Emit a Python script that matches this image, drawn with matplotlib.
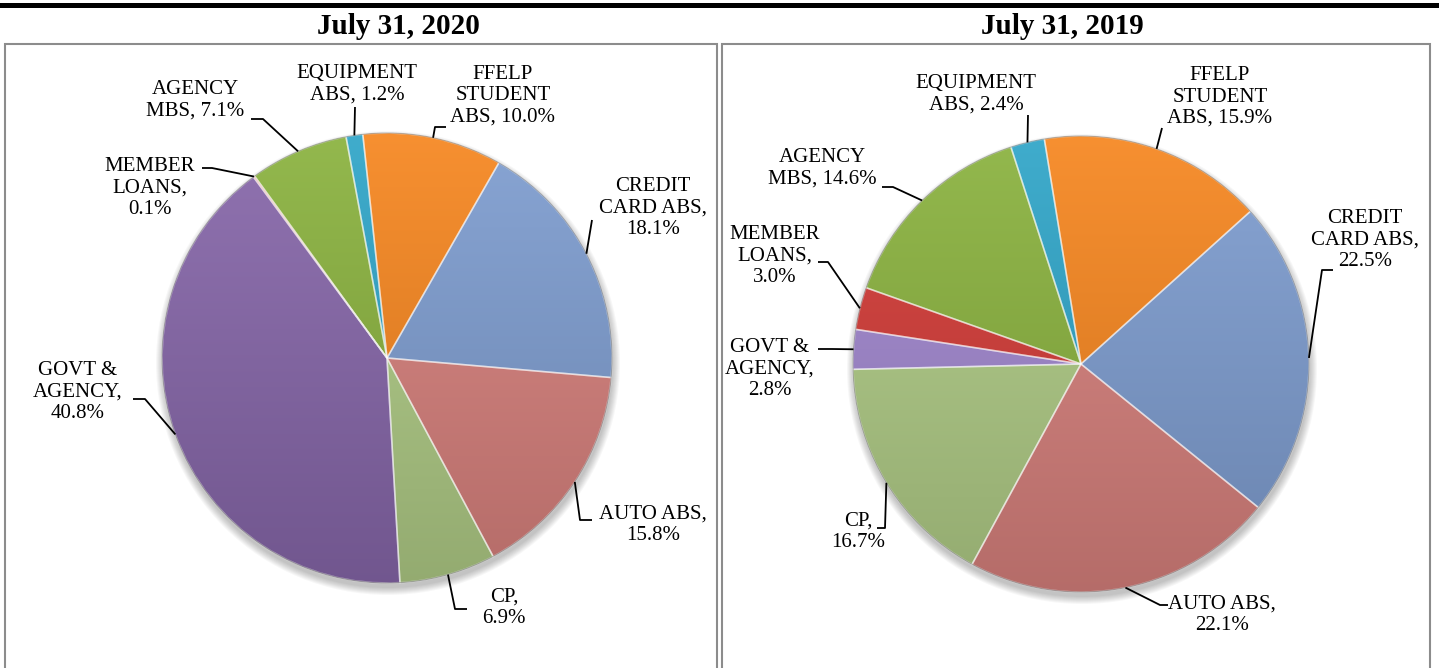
import numpy as np
import matplotlib
matplotlib.use("Agg")
import matplotlib.pyplot as plt
from matplotlib.patches import Rectangle, Circle
from matplotlib.colors import to_rgb

#? canvas size in pixels (dpi 100)
W, H = 1439, 668

#? slice names, clockwise from the top; "{}" gets the share
label_fmt = [
    "EQUIPMENT\nABS, {:.1f}%",
    "FFELP\nSTUDENT\nABS, {:.1f}%",
    "CREDIT\nCARD ABS,\n{:.1f}%",
    "AUTO ABS,\n{:.1f}%",
    "CP,\n{:.1f}%",
    "GOVT &\nAGENCY,\n{:.1f}%",
    "MEMBER\nLOANS,\n{:.1f}%",
    "AGENCY\nMBS, {:.1f}%",
]

titles = ["July 31, 2020", "July 31, 2019"]
share_2020 = [1.2, 10.0, 18.1, 15.8, 6.9, 40.8, 0.1, 7.1]
share_2019 = [2.4, 15.9, 22.5, 22.1, 16.7, 2.8, 3.0, 14.6]

colors_2020 = ["#2FA5C8", "#F6861F", "#7E9DD0", "#D8817D",
               "#B0CC86", "#8767AA", "#D33B37", "#8AB23E"]
colors_2019 = ["#2FA5C8", "#F6861F", "#7E9DD0", "#D8817D",
               "#B0CC86", "#A187CF", "#D33B37", "#8AB23E"]

#? layout (pixel coords, y measured from the top)
layout_2020 = dict(
    center=(387, 358), radius=225, start=100.5, title=(398, 27),
    text=[(357, 84), (503, 96), (653, 208), (653, 525),
          (504, 608), (78, 392), (150, 188), (195, 100)],
    elbow=[[(355, 107)], [(446, 127), (435, 127)], [(592, 220)],
           [(592, 520), (580, 520)], [(467, 609), (455, 609)],
           [(133, 399), (145, 399)], [(202, 168), (212, 168)],
           [(251, 119), (263, 119)]],
)
layout_2019 = dict(
    center=(1081, 364), radius=228, start=107.9, title=(1062, 27),
    text=[(976, 94), (1220, 97), (1365, 240), (1222, 615),
          (858, 532), (770, 369), (775, 256), (822, 168)],
    elbow=[[(1028, 115)], [(1162, 128)], [(1333, 270), (1322, 270)],
           [(1168, 605), (1160, 605)], [(877, 528), (885, 528)],
           [(818, 349), (832, 349)], [(818, 262), (828, 262)],
           [(882, 187), (893, 187)]],
)

FONT = "Liberation Serif"


def px(x, y):
    """pixel position (y from top) -> data coords"""
    return x, H - y


def gradient(color):
    """vertical light-to-dark fill, a rough take on the bevel look"""
    c = np.array(to_rgb(color))
    top = c + (1 - c) * 0.08
    bot = c * 0.84
    t = np.linspace(0, 1, 256)[:, None, None]
    img = top * (1 - t) + bot * t
    return np.repeat(img, 2, axis=1)


def draw_pie(ax, values, colors, lay):
    cx, cy = px(*lay["center"])
    r = lay["radius"]

    #? soft shadow under the pie
    for k in range(8):
        ax.add_patch(Circle((cx + 1, cy - 5), r + 7 - k, color="black",
                            alpha=0.03, lw=0, zorder=1))

    wedges, _ = ax.pie(values, colors=colors, startangle=lay["start"],
                       counterclock=False, radius=r, center=(cx, cy),
                       frame=True,
                       wedgeprops=dict(edgecolor=(1, 1, 1, 0.45), linewidth=1.2))

    for w, c in zip(wedges, colors):
        im = ax.imshow(gradient(c), extent=(cx - r, cx + r, cy - r, cy + r),
                       origin="upper", aspect="auto", interpolation="bilinear",
                       zorder=2)
        im.set_clip_path(w)
        w.set_facecolor("none")
        w.set_zorder(3)

    #? thin dark rim round the whole pie
    ax.add_patch(Circle((cx, cy), r, fill=False, edgecolor=(0, 0, 0, 0.25),
                        lw=0.8, zorder=3.5))

    for i, w in enumerate(wedges):
        txt = label_fmt[i].format(values[i])
        tx, ty = px(*lay["text"][i])
        ax.text(tx, ty, txt, ha="center", va="center", fontsize=15,
                family=FONT, linespacing=1.17, zorder=5)

        #? leader line ends on the rim at the middle of the slice
        mid = np.deg2rad((w.theta1 + w.theta2) / 2)
        ex, ey = cx + r * np.cos(mid), cy + r * np.sin(mid)
        pts = [px(*p) for p in lay["elbow"][i]] + [(ex, ey)]
        xs, ys = zip(*pts)
        ax.plot(xs, ys, color="black", lw=1.3, zorder=4,
                solid_capstyle="butt")

    tx, ty = px(*lay["title"])
    return tx, ty


def main():
    fig = plt.figure(figsize=(W / 100, H / 100), dpi=100)
    ax = fig.add_axes([0, 0, 1, 1])

    #? thick rule at the very top
    ax.add_patch(Rectangle((0, H - 8), W, 5, color="black", lw=0, zorder=6))

    #? panel frames
    for x0, x1 in [(5, 717), (722, 1430)]:
        ax.add_patch(Rectangle((x0, -10), x1 - x0, H - 44 + 10, fill=False,
                               edgecolor="#8C8C8C", lw=1.5, zorder=0.5))

    for vals, cols, lay, title in [(share_2020, colors_2020, layout_2020, titles[0]),
                                   (share_2019, colors_2019, layout_2019, titles[1])]:
        tx, ty = draw_pie(ax, vals, cols, lay)
        ax.text(tx, ty, title, ha="center", va="center", fontsize=21,
                fontweight="bold", family=FONT)

    ax.set_xlim(0, W)
    ax.set_ylim(0, H)
    ax.set_aspect("auto")
    ax.axis("off")
    fig.savefig("out.png", dpi=100)


if __name__ == "__main__":
    main()
